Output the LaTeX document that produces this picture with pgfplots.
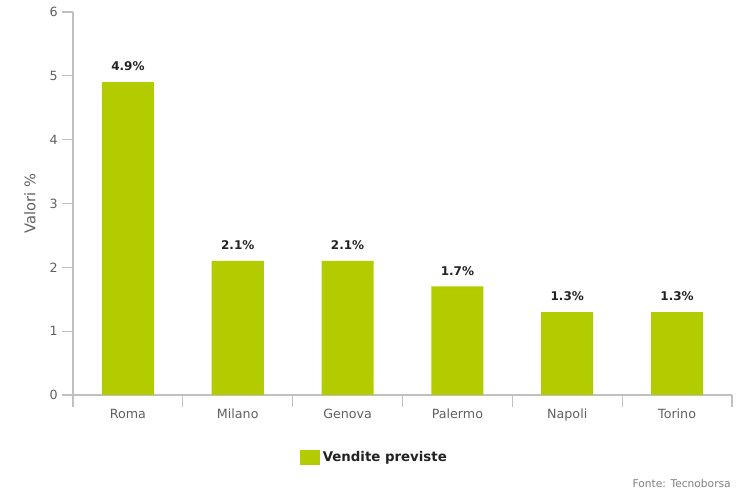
\documentclass[border=0pt]{standalone}
\usepackage{pgfplots}
\pgfplotsset{compat=1.18}
\usepackage{fontspec}
\setmainfont{DejaVu Sans}
\definecolor{barG}{RGB}{178,204,0}
\definecolor{axG}{RGB}{192,192,192}
\definecolor{txG}{RGB}{96,96,96}
\definecolor{lblD}{RGB}{34,34,34}
\begin{document}
\begin{tikzpicture}
\path[use as bounding box] (0,0) rectangle (558pt,372pt);
\begin{axis}[
  at={(54.75pt,75.75pt)}, anchor=south west,
  scale only axis, width=494.25pt, height=287.25pt,
  xmin=-0.5, xmax=5.5, ymin=0, ymax=6,
  axis x line*=bottom, axis y line*=left,
  axis line style={-, axG, line width=0.8pt},
  xtick={0,1,2,3,4,5},
  xticklabels={Roma,Milano,Genova,Palermo,Napoli,Torino},
  minor xtick={-0.5,0.5,1.5,2.5,3.5,4.5,5.5},
  major x tick style={draw=none},
  minor tick length=9pt,
  ytick={0,1,2,3,4,5,6},
  major tick length=8pt,
  tick align=outside,
  tick style={axG, line width=0.8pt},
  every tick label/.append style={font=\fontsize{9.5}{11}\selectfont, text=txG},
  /pgf/number format/assume math mode=true,
  xticklabel style={anchor=base, yshift=-9.5pt},
  yticklabel style={anchor=east},
  ylabel={Valori \%},
  ylabel style={at={(axis description cs:-0.0653,0.5)}, anchor=center, font=\fontsize{11}{13}\selectfont, text=txG},
  ybar, bar width=39pt, bar shift=0pt,
  nodes near coords={\pgfmathprintnumber[fixed,precision=1]{\pgfplotspointmeta}\%},
  nodes near coords style={font=\bfseries\fontsize{9}{11}\selectfont, text=lblD, anchor=base, yshift=8.6pt},
  legend style={at={(0.458,-0.162)}, anchor=center, draw=none, font=\bfseries\fontsize{10}{12}\selectfont, text=lblD},
  legend image code/.code={\fill[barG] (0pt,-5.6pt) rectangle (15pt,5.6pt);},
]
\addplot[fill=barG, draw=none] coordinates {(0,4.9) (1,2.1) (2,2.1) (3,1.7) (4,1.3) (5,1.3)};
\addlegendentry{Vendite previste}
\end{axis}
\node[anchor=base east, inner sep=0pt, font=\fontsize{8}{10}\selectfont, text=txG!80] at (548.25pt,6.5pt) {Fonte: Tecnoborsa};
\end{tikzpicture}
\end{document}
